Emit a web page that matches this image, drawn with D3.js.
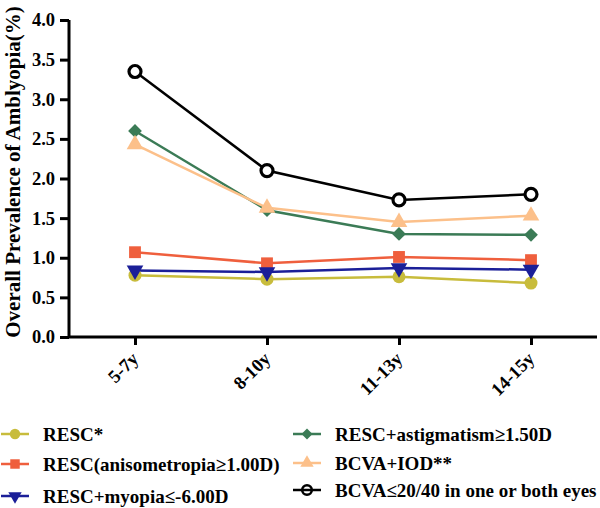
<!DOCTYPE html>
<html><head><meta charset="utf-8">
<script src="https://cdn.jsdelivr.net/npm/d3@7"></script>
<style>html,body{margin:0;padding:0;background:#fff}</style>
</head><body>
<svg id="c" width="600" height="508"></svg>
<script>
const categories = ["5-7y", "8-10y", "11-13y", "14-15y"];
const yTicks = [0.0, 0.5, 1.0, 1.5, 2.0, 2.5, 3.0, 3.5, 4.0];
const seriesNames = ["RESC*", "RESC(anisometropia\u22651.00D)", "RESC+myopia\u2264-6.00D",
  "RESC+astigmatism\u22651.50D", "BCVA+IOD**", "BCVA\u226420/40 in one or both eyes"];
const resc = [0.78, 0.73, 0.76, 0.68];
const rescAniso = [1.07, 0.93, 1.01, 0.97];
const rescMyopia = [0.84, 0.82, 0.87, 0.85];
const rescAstig = [2.60, 1.60, 1.30, 1.29];
const bcvaIod = [2.43, 1.63, 1.45, 1.53];
const bcva2040 = [3.35, 2.10, 1.73, 1.80];
const seriesColors = ["#c8bc3c", "#ef5f3d", "#1b1f98", "#3b7b56", "#fcc08a", "#000000"];
const seriesShapes = ["circle", "square", "triangleDown", "diamond", "triangle", "openCircle"];

const allValues = [resc, rescAniso, rescMyopia, rescAstig, bcvaIod, bcva2040];
const series = seriesNames.map((n, i) => ({name: n, values: allValues[i], color: seriesColors[i], shape: seriesShapes[i]}));

const svg = d3.select("#c");
const font = "'Liberation Serif', 'Times New Roman', serif";
const x = d3.scalePoint().domain(categories).range([69, 597]).padding(0.5);
const y = d3.scaleLinear().domain([0, 4]).range([337, 20]);

function drawMarker(g, shape, color, cx, cy, s, legend) {
  if (shape === "circle") {
    g.append("circle").attr("cx", cx).attr("cy", cy).attr("r", 6.5 * s).attr("fill", color);
  } else if (shape === "openCircle") {
    g.append("circle").attr("cx", cx).attr("cy", cy).attr("r", 6 * s).attr("fill", legend ? "none" : "#fff")
      .attr("stroke", color).attr("stroke-width", 3.2 * s);
  } else {
    const sym = {square: d3.symbolSquare, diamond: d3.symbolSquare, triangle: d3.symbolTriangle, triangleDown: d3.symbolTriangle}[shape];
    const size = {square: 140, diamond: 95, triangle: 120, triangleDown: 120}[shape] * s * s;
    const rot = shape === "triangleDown" ? " rotate(180)" : shape === "diamond" ? " rotate(45)" : "";
    g.append("path").attr("d", d3.symbol().type(sym).size(size)())
      .attr("transform", `translate(${cx},${cy})` + rot)
      .attr("fill", color);
  }
}

// axes
const yAxis = svg.append("g").attr("transform", "translate(69,0)")
  .call(d3.axisLeft(y).tickValues(yTicks).tickFormat(d3.format(".1f")).tickSize(9).tickSizeOuter(0));
const xAxis = svg.append("g").attr("transform", "translate(0,337)")
  .call(d3.axisBottom(x).tickSize(8).tickSizeOuter(0));
[yAxis, xAxis].forEach(a => {
  a.select(".domain").attr("stroke", "#000").attr("stroke-width", 3);
  a.selectAll(".tick line").attr("stroke", "#000").attr("stroke-width", 3);
  a.selectAll("text").attr("font-family", font).attr("font-weight", "bold").attr("font-size", 18.5).attr("fill", "#000");
});
yAxis.select(".domain").attr("d", "M0,20V337");
xAxis.select(".domain").attr("d", "M69,0H597");
yAxis.selectAll("text").attr("x", -14);
xAxis.selectAll("text").attr("text-anchor", "end").attr("dy", 0).attr("y", 0)
  .attr("transform", "translate(4,23) rotate(-45)");

svg.append("text").attr("transform", "translate(20,172) rotate(-90)")
  .attr("text-anchor", "middle").attr("font-family", font).attr("font-weight", "bold")
  .attr("font-size", 21).text("Overall Prevalence of Amblyopia(%)");

// lines
const line = d3.line().x((d, i) => x(categories[i])).y(d => y(d));
series.forEach(s => {
  svg.append("path").attr("d", line(s.values)).attr("fill", "none")
    .attr("stroke", s.color).attr("stroke-width", 2.5);
});
series.forEach(s => {
  const g = svg.append("g");
  s.values.forEach((v, i) => drawMarker(g, s.shape, s.color, x(categories[i]), y(v), 1, false));
});

// legend
const legPos = [[15, 434], [15, 464], [15, 496], [307, 434], [307, 463], [307, 490]];
series.forEach((s, i) => {
  const [lx, ly] = legPos[i];
  const g = svg.append("g");
  g.append("line").attr("x1", lx - 14).attr("x2", lx + 14).attr("y1", ly).attr("y2", ly)
    .attr("stroke", s.color).attr("stroke-width", 2.5);
  drawMarker(g, s.shape, s.color, lx, ly, 0.8, true);
  g.append("text").attr("x", lx + 28).attr("y", ly).attr("dy", "0.35em")
    .attr("font-family", font).attr("font-weight", "bold").attr("font-size", 19).text(s.name);
});
</script>
</body></html>
